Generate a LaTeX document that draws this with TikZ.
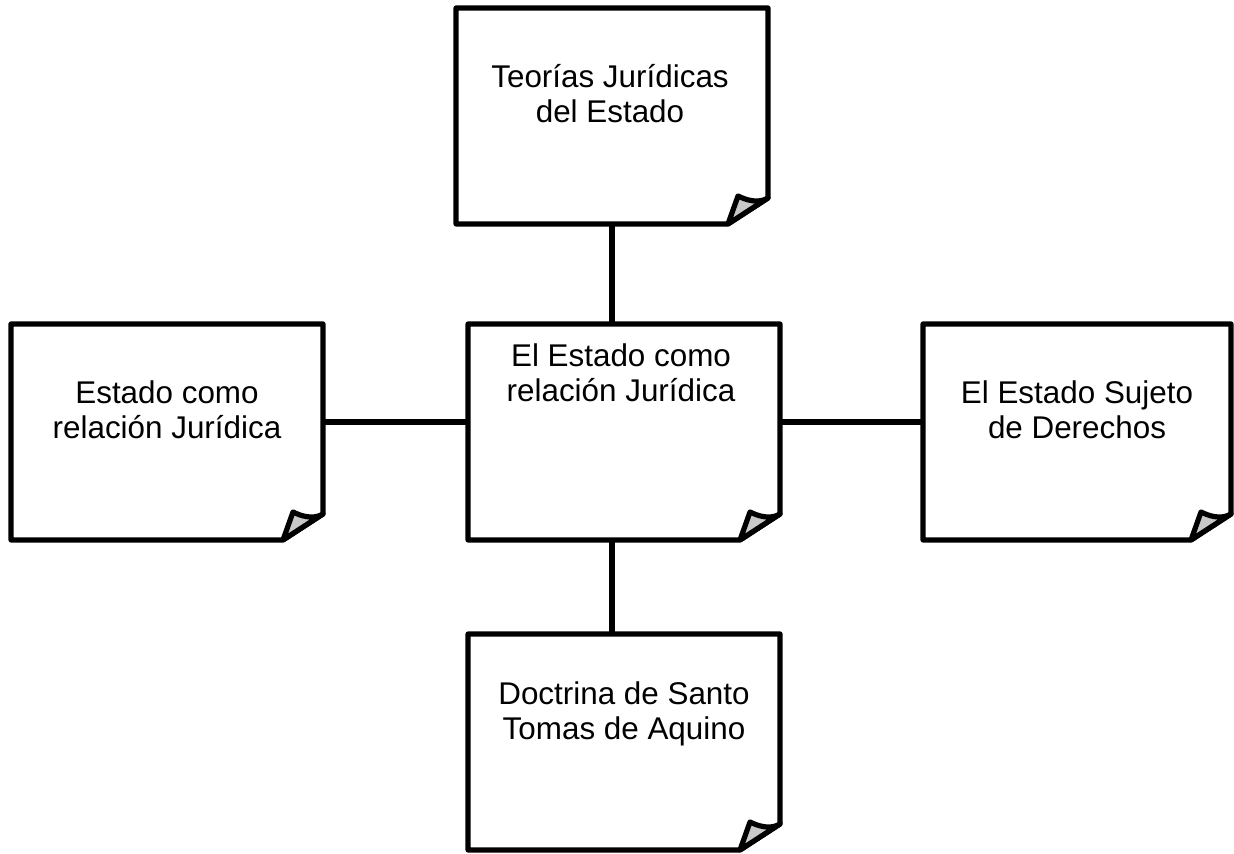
\documentclass[tikz,border=0pt]{standalone}
\usepackage{fontspec}
\setmainfont{Liberation Sans}
\usepackage{xcolor}
\usepackage{tikz}
\usetikzlibrary{calc}
\definecolor{ink}{HTML}{000000}
\definecolor{curl}{HTML}{C8C8C8}
\tikzset{
  card/.style={minimum width=156pt, minimum height=108pt, inner sep=0pt, outer sep=0pt},
  edge/.style={draw=ink, line width=2.6pt, line cap=round, line join=round},
  link/.style={draw=ink, line width=2.6pt},
  fold/.style={fill=curl, draw=ink, line width=2.6pt, line join=round},
  lab/.style={text=ink, align=center, inner sep=0pt, font=\fontsize{15.7}{17.6}\selectfont},
}
\newcommand{\notecard}[1]{%
  \draw[edge] (#1.north west) -- (#1.north east) -- ($(#1.south east)+(0,26)$)
    -- ($(#1.south east)+(-40,0)$) -- (#1.south west) -- cycle;
  \draw[fold] ($(#1.south east)+(0,26)$) .. controls +(-10,-6) and +(8,-4) .. ($(#1.south east)+(-30,28)$)
    -- ($(#1.south east)+(-40,0)$) -- cycle;
}

\begin{document}
\begin{tikzpicture}[x=0.5pt, y=0.5pt]
  \useasboundingbox (0,0) rectangle (1234,854);
  \node[card] (top) at (612,738) {};
  \node[card] (ctr) at (624,422) {};
  \node[card] (left) at (167,422) {};
  \node[card, minimum width=154pt] (right) at (1077,422) {};
  \node[card] (bot) at (624,742-630) {};
  \notecard{top} \notecard{ctr} \notecard{left} \notecard{right} \notecard{bot}
  \draw[link] (top.south) -- (top.south |- ctr.north);
  \draw[link] (ctr.south -| top.south) -- (bot.north -| top.south);
  \draw[link] ($(left.east)+(0,10)$) -- ($(ctr.west)+(0,10)$);
  \draw[link] ($(ctr.east)+(0,10)$) -- ($(right.west)+(0,10)$);
  \node[lab] (top-t) at ($(top)+(-2,22)$) {Teorías Jurídicas\\del Estado};
  \node[lab] (ctr-t) at ($(ctr)+(-3,59)$) {El Estado como\\relación Jurídica};
  \node[lab] (left-t) at ($(left)+(0,22)$) {Estado como\\relación Jurídica};
  \node[lab] (right-t) at ($(right)+(0,22)$) {El Estado Sujeto\\de Derechos};
  \node[lab] (bot-t) at ($(bot)+(0,28)$) {Doctrina de Santo\\Tomas de Aquino};
\end{tikzpicture}
\end{document}
